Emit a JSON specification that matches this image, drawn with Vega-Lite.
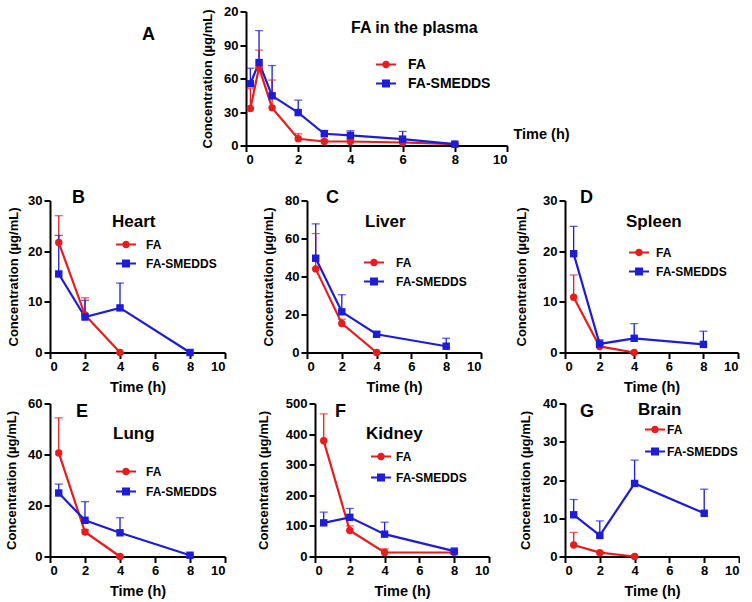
{
"$schema":"https://vega.github.io/schema/vega-lite/v6.json",
"padding":{"left":5,"top":5.5,"right":0,"bottom":0},
"config":{
 "font":"Liberation Sans",
 "view":{"stroke":null},
 "range":{"category":["#e81c1c","#1c1cd9"]},
 "axis":{"grid":false,"domainColor":"black","domainWidth":2,"tickColor":"black","tickWidth":2,"tickSize":6,"labelPadding":2,"labelFont":"Liberation Sans","labelFontSize":13,"labelFontWeight":"bold","labelColor":"black","titleFont":"Liberation Sans","titleFontWeight":"bold","titleColor":"black"},
 "axisX":{"titleFontSize":14.5,"titlePadding":7},
 "axisY":{"titleFontSize":13},
 "legend":{"titleFont":"Liberation Sans","titleFontSize":17,"titleFontWeight":"bold","titleColor":"black","labelFont":"Liberation Sans","labelFontSize":12,"labelFontWeight":"bold","labelColor":"black","symbolSize":100,"symbolStrokeWidth":0,"padding":0,"titleLimit":300,"labelLimit":300},
 "title":{"font":"Liberation Sans","fontSize":18,"fontWeight":"bold","color":"black","anchor":"start","frame":"group","offset":0}
},
"data":{"values":[
 {"p":"Plasma","g":"FA","t":0.167,"c":33.1,"hi":50.8},
 {"p":"Plasma","g":"FA","t":0.5,"c":69.8,"hi":85.4},
 {"p":"Plasma","g":"FA","t":1,"c":33.7,"hi":58.6},
 {"p":"Plasma","g":"FA","t":2,"c":6.0,"hi":10.5},
 {"p":"Plasma","g":"FA","t":3,"c":3.6,"hi":5.0},
 {"p":"Plasma","g":"FA","t":4,"c":3.6,"hi":5.5},
 {"p":"Plasma","g":"FA","t":6,"c":2.7,"hi":4.0},
 {"p":"Plasma","g":"FA","t":8,"c":1.2,"hi":1.5},
 {"p":"Plasma","g":"FA-SMEDDS","t":0.167,"c":55.3,"hi":69.2},
 {"p":"Plasma","g":"FA-SMEDDS","t":0.5,"c":74.3,"hi":102.9},
 {"p":"Plasma","g":"FA-SMEDDS","t":1,"c":44.5,"hi":71.6},
 {"p":"Plasma","g":"FA-SMEDDS","t":2,"c":29.5,"hi":40.6},
 {"p":"Plasma","g":"FA-SMEDDS","t":3,"c":10.5,"hi":13.5},
 {"p":"Plasma","g":"FA-SMEDDS","t":4,"c":9.0,"hi":13.2},
 {"p":"Plasma","g":"FA-SMEDDS","t":6,"c":5.7,"hi":12.6},
 {"p":"Plasma","g":"FA-SMEDDS","t":8,"c":1.2,"hi":1.5},
 {"p":"Heart","g":"FA","t":0.5,"c":21.7,"hi":27.0},
 {"p":"Heart","g":"FA","t":2,"c":7.4,"hi":10.8},
 {"p":"Heart","g":"FA","t":4,"c":0,"hi":0},
 {"p":"Heart","g":"FA-SMEDDS","t":0.5,"c":15.5,"hi":23.1},
 {"p":"Heart","g":"FA-SMEDDS","t":2,"c":7.0,"hi":10.3},
 {"p":"Heart","g":"FA-SMEDDS","t":4,"c":8.8,"hi":13.7},
 {"p":"Heart","g":"FA-SMEDDS","t":8,"c":0,"hi":0},
 {"p":"Liver","g":"FA","t":0.5,"c":44.0,"hi":62.6},
 {"p":"Liver","g":"FA","t":2,"c":15.3,"hi":17.5},
 {"p":"Liver","g":"FA","t":4,"c":0,"hi":0},
 {"p":"Liver","g":"FA-SMEDDS","t":0.5,"c":49.6,"hi":67.7},
 {"p":"Liver","g":"FA-SMEDDS","t":2,"c":21.4,"hi":30.4},
 {"p":"Liver","g":"FA-SMEDDS","t":4,"c":9.6,"hi":10.8},
 {"p":"Liver","g":"FA-SMEDDS","t":8,"c":3.3,"hi":7.5},
 {"p":"Spleen","g":"FA","t":0.5,"c":10.9,"hi":15.3},
 {"p":"Spleen","g":"FA","t":2,"c":1.2,"hi":1.6},
 {"p":"Spleen","g":"FA","t":4,"c":0,"hi":0},
 {"p":"Spleen","g":"FA-SMEDDS","t":0.5,"c":19.5,"hi":24.9},
 {"p":"Spleen","g":"FA-SMEDDS","t":2,"c":1.7,"hi":2.5},
 {"p":"Spleen","g":"FA-SMEDDS","t":4,"c":2.8,"hi":5.7},
 {"p":"Spleen","g":"FA-SMEDDS","t":8,"c":1.6,"hi":4.2},
 {"p":"Lung","g":"FA","t":0.5,"c":40.6,"hi":54.4},
 {"p":"Lung","g":"FA","t":2,"c":9.6,"hi":10.5},
 {"p":"Lung","g":"FA","t":4,"c":0,"hi":0},
 {"p":"Lung","g":"FA-SMEDDS","t":0.5,"c":24.9,"hi":28.4},
 {"p":"Lung","g":"FA-SMEDDS","t":2,"c":14.2,"hi":21.5},
 {"p":"Lung","g":"FA-SMEDDS","t":4,"c":9.3,"hi":15.2},
 {"p":"Lung","g":"FA-SMEDDS","t":8,"c":0.5,"hi":0.8},
 {"p":"Kidney","g":"FA","t":0.5,"c":378,"hi":466},
 {"p":"Kidney","g":"FA","t":2,"c":85,"hi":100},
 {"p":"Kidney","g":"FA","t":4,"c":13,"hi":25},
 {"p":"Kidney","g":"FA","t":8,"c":13,"hi":13},
 {"p":"Kidney","g":"FA-SMEDDS","t":0.5,"c":110,"hi":145},
 {"p":"Kidney","g":"FA-SMEDDS","t":2,"c":128,"hi":157},
 {"p":"Kidney","g":"FA-SMEDDS","t":4,"c":73,"hi":112},
 {"p":"Kidney","g":"FA-SMEDDS","t":8,"c":17.5,"hi":20},
 {"p":"Brain","g":"FA","t":0.5,"c":3.0,"hi":6.3},
 {"p":"Brain","g":"FA","t":2,"c":1.0,"hi":1.2},
 {"p":"Brain","g":"FA","t":4,"c":0,"hi":0},
 {"p":"Brain","g":"FA-SMEDDS","t":0.5,"c":10.9,"hi":14.9},
 {"p":"Brain","g":"FA-SMEDDS","t":2,"c":5.5,"hi":9.3},
 {"p":"Brain","g":"FA-SMEDDS","t":4,"c":19.1,"hi":25.2},
 {"p":"Brain","g":"FA-SMEDDS","t":8,"c":11.3,"hi":17.6}
]},
"spacing":22,
"resolve":{"scale":{"x":"independent","y":"independent","color":"independent","fill":"independent","shape":"independent"},"legend":{"fill":"independent","shape":"independent"}},
"vconcat":[
 {"hconcat":[
 {"width":196,"height":138,"data":{"values":[]},"mark":"point"},
 {"width":261,"height":134,
  "transform":[{"filter":"datum.p === 'Plasma'"}],
  "title":{"text":"A","dx":-104,"dy":42},
  "encoding":{
   "x":{"field":"t","type":"quantitative","scale":{"domain":[0,10],"nice":false},"axis":{"values":[0,2,4,6,8,10],"title":"Time (h)","titleX":267,"titleY":-11,"titleAlign":"left","titleBaseline":"middle"}},
   "y":{"field":"c","type":"quantitative","scale":{"domain":[0,120],"nice":false},"axis":{"values":[0,30,60,90,120],"labelExpr":"datum.value == 120 ? '20' : datum.label","title":"Concentration (µg/mL)","titlePadding":9}},
   "color":{"field":"g","type":"nominal","legend":null}
  },
  "layer":[
   {"mark":{"type":"rule","strokeWidth":1.3},"encoding":{"y2":{"field":"hi"}}},
   {"mark":{"type":"tick","orient":"horizontal","size":8,"thickness":1.3},"encoding":{"y":{"field":"hi","type":"quantitative"}}},
   {"mark":{"type":"line","strokeWidth":2.2}},
   {"mark":{"type":"point","filled":true,"opacity":1,"size":55},"encoding":{"shape":{"condition":{"test":"datum.g === 'FA'","value":"circle"},"value":"square"}}},
   {"transform":[{"filter":"false"}],"mark":{"type":"point","filled":true,"opacity":1,"strokeWidth":0},
    "encoding":{
     "shape":{"field":"g","type":"nominal","scale":{"domain":["FA","FA-SMEDDS"],"range":["M-2,-0.2H2V0.2H-2Z M-0.75,0A0.75,0.75 0 1,1 0.75,0A0.75,0.75 0 1,1 -0.75,0Z","M-2,-0.2H2V0.2H-2Z M-0.8,-0.8H0.8V0.8H-0.8Z"]},
      "legend":{"orient":"none","legendX":105,"legendY":8,"title":"FA in the plasma","titleFontSize":16,"labelFontSize":14,"titlePadding":22,"rowPadding":5,"symbolOffset":28,"labelOffset":15}},
     "fill":{"field":"g","type":"nominal","scale":{"domain":["FA","FA-SMEDDS"],"range":["#e81c1c","#1c1cd9"]},
      "legend":{"orient":"none","legendX":105,"legendY":8,"title":"FA in the plasma","titleFontSize":16,"labelFontSize":14,"titlePadding":22,"rowPadding":5,"symbolOffset":28,"labelOffset":15}}
    }}
  ]}
 ],"spacing":0,"bounds":"flush",
 "resolve":{"scale":{"x":"independent","y":"independent","color":"independent","fill":"independent","shape":"independent"},"legend":{"fill":"independent","shape":"independent"}}},
 {"vconcat":[
 {"hconcat":[
 {"width":175,"height":152,
  "transform":[{"filter":"datum.p === 'Heart'"}],
  "title":{"text":"B","dx":22,"dy":16},
  "encoding":{
   "x":{"field":"t","type":"quantitative","scale":{"domain":[0,10],"nice":false},"axis":{"values":[0,2,4,6,8,10],"title":"Time (h)"}},
   "y":{"field":"c","type":"quantitative","scale":{"domain":[0,30],"nice":false},"axis":{"values":[0,10,20,30],"title":"Concentration (µg/mL)","titlePadding":7}},
   "color":{"field":"g","type":"nominal","legend":null}
  },
  "layer":[
   {"mark":{"type":"rule","strokeWidth":1.3},"encoding":{"y2":{"field":"hi"}}},
   {"mark":{"type":"tick","orient":"horizontal","size":8,"thickness":1.3},"encoding":{"y":{"field":"hi","type":"quantitative"}}},
   {"mark":{"type":"line","strokeWidth":2.2}},
   {"mark":{"type":"point","filled":true,"opacity":1,"size":55},"encoding":{"shape":{"condition":{"test":"datum.g === 'FA'","value":"circle"},"value":"square"}}},
   {"transform":[{"filter":"false"}],"mark":{"type":"point","filled":true,"opacity":1,"strokeWidth":0},
    "encoding":{
     "shape":{"field":"g","type":"nominal","scale":{"domain":["FA","FA-SMEDDS"],"range":["M-2,-0.2H2V0.2H-2Z M-0.75,0A0.75,0.75 0 1,1 0.75,0A0.75,0.75 0 1,1 -0.75,0Z","M-2,-0.2H2V0.2H-2Z M-0.8,-0.8H0.8V0.8H-0.8Z"]},
      "legend":{"orient":"none","legendX":62,"legendY":13,"title":"Heart","titlePadding":8,"rowPadding":7,"symbolOffset":8,"labelOffset":14}},
     "fill":{"field":"g","type":"nominal","scale":{"domain":["FA","FA-SMEDDS"],"range":["#e81c1c","#1c1cd9"]},
      "legend":{"orient":"none","legendX":62,"legendY":13,"title":"Heart","titlePadding":8,"rowPadding":7,"symbolOffset":8,"labelOffset":14}}
    }}
  ]},
 {"width":82,"height":1,"data":{"values":[]},"mark":"point"},
 {"width":174,"height":152,
  "transform":[{"filter":"datum.p === 'Liver'"}],
  "title":{"text":"C","dx":19,"dy":16},
  "encoding":{
   "x":{"field":"t","type":"quantitative","scale":{"domain":[0,10],"nice":false},"axis":{"values":[0,2,4,6,8,10],"title":"Time (h)"}},
   "y":{"field":"c","type":"quantitative","scale":{"domain":[0,80],"nice":false},"axis":{"values":[0,20,40,60,80],"title":"Concentration (µg/mL)","titlePadding":9}},
   "color":{"field":"g","type":"nominal","legend":null}
  },
  "layer":[
   {"mark":{"type":"rule","strokeWidth":1.3},"encoding":{"y2":{"field":"hi"}}},
   {"mark":{"type":"tick","orient":"horizontal","size":8,"thickness":1.3},"encoding":{"y":{"field":"hi","type":"quantitative"}}},
   {"mark":{"type":"line","strokeWidth":2.2}},
   {"mark":{"type":"point","filled":true,"opacity":1,"size":55},"encoding":{"shape":{"condition":{"test":"datum.g === 'FA'","value":"circle"},"value":"square"}}},
   {"transform":[{"filter":"false"}],"mark":{"type":"point","filled":true,"opacity":1,"strokeWidth":0},
    "encoding":{
     "shape":{"field":"g","type":"nominal","scale":{"domain":["FA","FA-SMEDDS"],"range":["M-2,-0.2H2V0.2H-2Z M-0.75,0A0.75,0.75 0 1,1 0.75,0A0.75,0.75 0 1,1 -0.75,0Z","M-2,-0.2H2V0.2H-2Z M-0.8,-0.8H0.8V0.8H-0.8Z"]},
      "legend":{"orient":"none","legendX":58,"legendY":13,"title":"Liver","titlePadding":26,"rowPadding":7,"symbolOffset":3,"labelOffset":16}},
     "fill":{"field":"g","type":"nominal","scale":{"domain":["FA","FA-SMEDDS"],"range":["#e81c1c","#1c1cd9"]},
      "legend":{"orient":"none","legendX":58,"legendY":13,"title":"Liver","titlePadding":26,"rowPadding":7,"symbolOffset":3,"labelOffset":16}}
    }}
  ]},
 {"width":84,"height":1,"data":{"values":[]},"mark":"point"},
 {"width":173,"height":152,
  "transform":[{"filter":"datum.p === 'Spleen'"}],
  "title":{"text":"D","dx":15,"dy":16},
  "encoding":{
   "x":{"field":"t","type":"quantitative","scale":{"domain":[0,10],"nice":false},"axis":{"values":[0,2,4,6,8,10],"title":"Time (h)"}},
   "y":{"field":"c","type":"quantitative","scale":{"domain":[0,30],"nice":false},"axis":{"values":[0,10,20,30],"title":"Concentration (µg/mL)","titlePadding":14}},
   "color":{"field":"g","type":"nominal","legend":null}
  },
  "layer":[
   {"mark":{"type":"rule","strokeWidth":1.3},"encoding":{"y2":{"field":"hi"}}},
   {"mark":{"type":"tick","orient":"horizontal","size":8,"thickness":1.3},"encoding":{"y":{"field":"hi","type":"quantitative"}}},
   {"mark":{"type":"line","strokeWidth":2.2}},
   {"mark":{"type":"point","filled":true,"opacity":1,"size":55},"encoding":{"shape":{"condition":{"test":"datum.g === 'FA'","value":"circle"},"value":"square"}}},
   {"transform":[{"filter":"false"}],"mark":{"type":"point","filled":true,"opacity":1,"strokeWidth":0},
    "encoding":{
     "shape":{"field":"g","type":"nominal","scale":{"domain":["FA","FA-SMEDDS"],"range":["M-2,-0.2H2V0.2H-2Z M-0.75,0A0.75,0.75 0 1,1 0.75,0A0.75,0.75 0 1,1 -0.75,0Z","M-2,-0.2H2V0.2H-2Z M-0.8,-0.8H0.8V0.8H-0.8Z"]},
      "legend":{"orient":"none","legendX":61,"legendY":13,"title":"Spleen","titlePadding":16,"rowPadding":7,"symbolOffset":7,"labelOffset":11}},
     "fill":{"field":"g","type":"nominal","scale":{"domain":["FA","FA-SMEDDS"],"range":["#e81c1c","#1c1cd9"]},
      "legend":{"orient":"none","legendX":61,"legendY":13,"title":"Spleen","titlePadding":16,"rowPadding":7,"symbolOffset":7,"labelOffset":11}}
    }}
  ]}
 ],"spacing":0,"bounds":"flush",
 "resolve":{"scale":{"x":"independent","y":"independent","color":"independent","fill":"independent","shape":"independent"},"legend":{"fill":"independent","shape":"independent"}}},
 {"hconcat":[
 {"width":175,"height":153,
  "transform":[{"filter":"datum.p === 'Lung'"}],
  "title":{"text":"E","dx":26,"dy":27},
  "encoding":{
   "x":{"field":"t","type":"quantitative","scale":{"domain":[0,10],"nice":false},"axis":{"values":[0,2,4,6,8,10],"title":"Time (h)"}},
   "y":{"field":"c","type":"quantitative","scale":{"domain":[0,60],"nice":false},"axis":{"values":[0,20,40,60],"title":"Concentration (µg/mL)","titlePadding":9}},
   "color":{"field":"g","type":"nominal","legend":null}
  },
  "layer":[
   {"mark":{"type":"rule","strokeWidth":1.3},"encoding":{"y2":{"field":"hi"}}},
   {"mark":{"type":"tick","orient":"horizontal","size":8,"thickness":1.3},"encoding":{"y":{"field":"hi","type":"quantitative"}}},
   {"mark":{"type":"line","strokeWidth":2.2}},
   {"mark":{"type":"point","filled":true,"opacity":1,"size":55},"encoding":{"shape":{"condition":{"test":"datum.g === 'FA'","value":"circle"},"value":"square"}}},
   {"transform":[{"filter":"false"}],"mark":{"type":"point","filled":true,"opacity":1,"strokeWidth":0},
    "encoding":{
     "shape":{"field":"g","type":"nominal","scale":{"domain":["FA","FA-SMEDDS"],"range":["M-2,-0.2H2V0.2H-2Z M-0.75,0A0.75,0.75 0 1,1 0.75,0A0.75,0.75 0 1,1 -0.75,0Z","M-2,-0.2H2V0.2H-2Z M-0.8,-0.8H0.8V0.8H-0.8Z"]},
      "legend":{"orient":"none","legendX":63,"legendY":22,"title":"Lung","titlePadding":23,"rowPadding":8,"symbolOffset":7,"labelOffset":14}},
     "fill":{"field":"g","type":"nominal","scale":{"domain":["FA","FA-SMEDDS"],"range":["#e81c1c","#1c1cd9"]},
      "legend":{"orient":"none","legendX":63,"legendY":22,"title":"Lung","titlePadding":23,"rowPadding":8,"symbolOffset":7,"labelOffset":14}}
    }}
  ]},
 {"width":90,"height":1,"data":{"values":[]},"mark":"point"},
 {"width":174,"height":153,
  "transform":[{"filter":"datum.p === 'Kidney'"}],
  "title":{"text":"F","dx":20,"dy":27},
  "encoding":{
   "x":{"field":"t","type":"quantitative","scale":{"domain":[0,10],"nice":false},"axis":{"values":[0,2,4,6,8,10],"title":"Time (h)"}},
   "y":{"field":"c","type":"quantitative","scale":{"domain":[0,500],"nice":false},"axis":{"values":[0,100,200,300,400,500],"title":"Concentration (µg/mL)","titlePadding":15}},
   "color":{"field":"g","type":"nominal","legend":null}
  },
  "layer":[
   {"mark":{"type":"rule","strokeWidth":1.3},"encoding":{"y2":{"field":"hi"}}},
   {"mark":{"type":"tick","orient":"horizontal","size":8,"thickness":1.3},"encoding":{"y":{"field":"hi","type":"quantitative"}}},
   {"mark":{"type":"line","strokeWidth":2.2}},
   {"mark":{"type":"point","filled":true,"opacity":1,"size":55},"encoding":{"shape":{"condition":{"test":"datum.g === 'FA'","value":"circle"},"value":"square"}}},
   {"transform":[{"filter":"false"}],"mark":{"type":"point","filled":true,"opacity":1,"strokeWidth":0},
    "encoding":{
     "shape":{"field":"g","type":"nominal","scale":{"domain":["FA","FA-SMEDDS"],"range":["M-2,-0.2H2V0.2H-2Z M-0.75,0A0.75,0.75 0 1,1 0.75,0A0.75,0.75 0 1,1 -0.75,0Z","M-2,-0.2H2V0.2H-2Z M-0.8,-0.8H0.8V0.8H-0.8Z"]},
      "legend":{"orient":"none","legendX":51,"legendY":22,"title":"Kidney","titlePadding":8,"rowPadding":9,"symbolOffset":9,"labelOffset":9}},
     "fill":{"field":"g","type":"nominal","scale":{"domain":["FA","FA-SMEDDS"],"range":["#e81c1c","#1c1cd9"]},
      "legend":{"orient":"none","legendX":51,"legendY":22,"title":"Kidney","titlePadding":8,"rowPadding":9,"symbolOffset":9,"labelOffset":9}}
    }}
  ]},
 {"width":76,"height":1,"data":{"values":[]},"mark":"point"},
 {"width":174,"height":153,
  "transform":[{"filter":"datum.p === 'Brain'"}],
  "title":{"text":"G","dx":15,"dy":27},
  "encoding":{
   "x":{"field":"t","type":"quantitative","scale":{"domain":[0,10],"nice":false},"axis":{"values":[0,2,4,6,8,10],"title":"Time (h)"}},
   "y":{"field":"c","type":"quantitative","scale":{"domain":[0,40],"nice":false},"axis":{"values":[0,10,20,30,40],"title":"Concentration (µg/mL)","titlePadding":10}},
   "color":{"field":"g","type":"nominal","legend":null}
  },
  "layer":[
   {"mark":{"type":"rule","strokeWidth":1.3},"encoding":{"y2":{"field":"hi"}}},
   {"mark":{"type":"tick","orient":"horizontal","size":8,"thickness":1.3},"encoding":{"y":{"field":"hi","type":"quantitative"}}},
   {"mark":{"type":"line","strokeWidth":2.2}},
   {"mark":{"type":"point","filled":true,"opacity":1,"size":55},"encoding":{"shape":{"condition":{"test":"datum.g === 'FA'","value":"circle"},"value":"square"}}},
   {"transform":[{"filter":"false"}],"mark":{"type":"point","filled":true,"opacity":1,"strokeWidth":0},
    "encoding":{
     "shape":{"field":"g","type":"nominal","scale":{"domain":["FA","FA-SMEDDS"],"range":["M-2,-0.2H2V0.2H-2Z M-0.75,0A0.75,0.75 0 1,1 0.75,0A0.75,0.75 0 1,1 -0.75,0Z","M-2,-0.2H2V0.2H-2Z M-0.8,-0.8H0.8V0.8H-0.8Z"]},
      "legend":{"orient":"none","legendX":73,"legendY":-2,"title":"Brain","titlePadding":5,"rowPadding":10,"symbolOffset":11,"labelOffset":6}},
     "fill":{"field":"g","type":"nominal","scale":{"domain":["FA","FA-SMEDDS"],"range":["#e81c1c","#1c1cd9"]},
      "legend":{"orient":"none","legendX":73,"legendY":-2,"title":"Brain","titlePadding":5,"rowPadding":10,"symbolOffset":11,"labelOffset":6}}
    }}
  ]}
 ],"spacing":0,"bounds":"flush",
 "resolve":{"scale":{"x":"independent","y":"independent","color":"independent","fill":"independent","shape":"independent"},"legend":{"fill":"independent","shape":"independent"}}}
 ],"spacing":3,
 "resolve":{"scale":{"x":"independent","y":"independent","color":"independent","fill":"independent","shape":"independent"},"legend":{"fill":"independent","shape":"independent"}}}
]
}
